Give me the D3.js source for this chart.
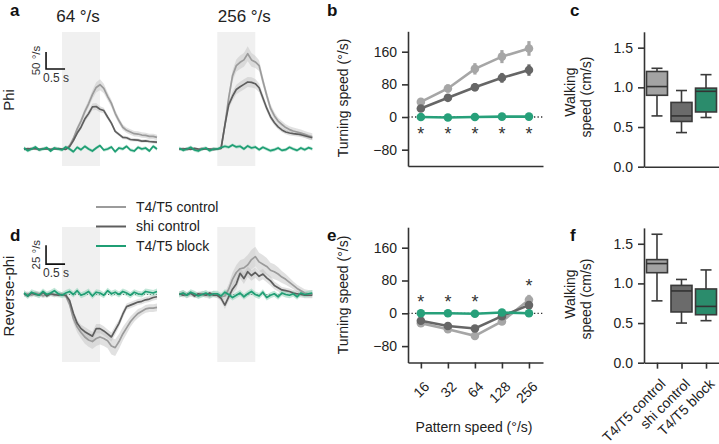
<!DOCTYPE html>
<html>
<head>
<meta charset="utf-8">
<script src="https://cdn.jsdelivr.net/npm/d3@7"></script>
<style>
  body { margin: 0; background: #fff; }
  svg { font-family: "Liberation Sans", Arial, sans-serif; }
</style>
</head>
<body>
<svg id="fig" width="719" height="444"></svg>
<script>
// ---------- data ----------
// time traces: samples every 0.1 s from -1.0 s to 2.5 s (stimulus 0-1 s)
var tStart = -1.0, tStep = 0.1, nSamples = 36;
var stimOn = 0, stimOff = 1;

var phi64Ctrl  = [1,-1,2,0,-2,1,0,-1,2,0, 0,1,10,31,59,82,110,133,160,181,189,178,155,134,105,83,64,55,50,45,44,41,40,37,37,34];
var phi64Shi   = [-1,1,0,2,-1,0,1,-2,0,1, 0,-1,7,25,47,64,88,104,124,125,117,113,94,76,52,43,34,33,28,27,26,23,24,22,21,20];
var phi64Block = [3,-5,0,6,-3,0,4,-6,3,0, -3,6,0,-8,5,-2,8,0,-6,3,10,-3,0,6,-8,3,0,8,-3,-6,5,0,3,-6,8,0];
var phi256Ctrl  = [0,1,-2,1,0,-1,2,0,-1,1, 0,3,70,150,215,245,255,262,280,262,256,245,200,158,120,98,82,72,63,57,53,50,47,43,39,36];
var phi256Shi   = [-1,0,1,-1,2,0,-1,1,0,-2, 0,2,70,130,155,175,183,190,197,196,192,180,150,120,95,78,65,56,50,47,45,44,42,39,36,33];
var phi256Block = [2,-4,0,5,-3,-6,0,3,-5,0, 0,4,8,5,12,6,8,0,9,3,6,-2,5,0,-5,-2,3,-4,-2,5,0,-4,3,-2,4,0];

var rev64Ctrl  = [0,1,-1,2,1,-2,0,1,-1,1, 0,-2,-13,-32,-43,-50,-56,-60,-62,-58,-56,-58,-61,-68,-70,-62,-52,-44,-36,-30,-25,-22,-19,-18,-18,-17];
var rev64Shi   = [1,-2,2,0,-1,3,-2,1,0,-1, 0,-1,-8,-25,-38,-45,-49,-52,-55,-45,-45,-48,-52,-56,-47,-38,-26,-16,-14,-12,-10,-9,-7,-6,-4,-3];
var rev64Block = [2,-2,3,1,-1,4,0,2,5,1, -1,2,4,0,5,-1,1,4,-2,3,2,-1,5,1,3,0,4,2,-1,3,1,0,4,3,2,4];
var rev256Ctrl  = [0,2,-1,1,0,-1,1,0,-2,1, -1,-3,-2,7,20,29,34,35,39,46,50,43,40,37,32,30,27,23,20,16,12,8,5,2,1,1];
var rev256Shi   = [1,-1,0,2,-2,1,0,-1,2,-1, -1,-5,-14,-3,7,14,28,21,30,25,29,24,27,22,18,12,9,6,5,4,2,1,0,-1,-1,-1];
var rev256Block = [0,2,-1,3,1,-2,0,2,-1,1, 1,-2,3,0,-4,-1,2,-3,1,4,0,-2,3,-4,-1,1,-3,2,0,-1,1,-3,2,0,1,2];

// SEM of the traces
var semPhi64Ctrl   = [4,4,4,4,4,4,4,4,4,4, 4,4,5,7,8,9,10,11,13,15,16,14,12,11,10,9,8,8,8,8,8,8,8,8,8,8];
var semPhi64Shi    = [3,3,3,3,3,3,3,3,3,3, 3,3,4,5,6,7,8,9,10,10,9,8,7,6,5,5,5,5,5,5,5,5,5,5,5,5];
var semPhi64Block  = [5,5,5,5,5,5,5,5,5,5, 5,5,5,5,5,5,5,5,5,5,5,5,5,5,5,5,5,5,5,5,5,5,5,5,5,5];
var semPhi256Ctrl  = [4,4,4,4,4,4,4,4,4,4, 4,5,10,14,16,18,20,20,22,20,18,16,14,12,12,11,10,10,10,10,10,10,10,10,10,10];
var semPhi256Shi   = [3,3,3,3,3,3,3,3,3,3, 3,5,10,12,13,14,15,15,15,15,14,13,12,10,9,8,7,7,7,7,7,7,7,7,7,7];
var semPhi256Block = [5,5,5,5,5,5,5,5,5,5, 5,5,5,5,5,5,5,5,5,5,5,5,5,5,5,5,5,5,5,5,5,5,5,5,5,5];
var semRev64Ctrl   = [3,3,3,3,3,3,3,3,3,3, 3,3,4,6,7,8,9,9,10,10,10,10,10,11,11,10,9,8,7,6,6,5,5,5,5,5];
var semRev64Shi    = [3,3,3,3,3,3,3,3,3,3, 3,3,3,4,5,5,6,6,6,6,6,6,6,6,6,5,5,4,4,4,4,4,4,4,4,4];
var semRev64Block  = [4,4,4,4,4,4,4,4,4,4, 4,4,4,4,4,4,4,4,4,4,4,4,4,4,4,4,4,4,4,4,4,4,4,4,4,4];
var semRev256Ctrl  = [4,4,4,4,4,4,4,4,4,4, 4,4,5,7,9,10,11,12,13,13,13,12,12,11,10,10,9,8,7,6,5,5,5,5,5,5];
var semRev256Shi   = [3,3,3,3,3,3,3,3,3,3, 3,4,5,6,6,7,7,7,7,7,7,7,7,6,6,5,5,4,4,4,4,4,4,4,4,4];
var semRev256Block = [4,4,4,4,4,4,4,4,4,4, 4,4,4,4,4,4,4,4,4,4,4,4,4,4,4,4,4,4,4,4,4,4,4,4,4,4];

// tuning curves
var speeds = [16, 32, 64, 128, 256];
var phiCtrl = [37, 70, 118, 148, 168],   phiCtrlErr = [6, 10, 14, 16, 18];
var phiShi = [21, 47, 73, 96, 115],      phiShiErr = [5, 7, 10, 12, 14];
var phiBlock = [0, -1, 0, 1, 1],         phiBlockErr = [2, 2, 2, 2, 2];
var revCtrl = [-24, -39, -55, -20, 33],  revCtrlErr = [5, 6, 8, 8, 12];
var revShi = [-18, -31, -37, -7, 20],    revShiErr = [4, 5, 6, 6, 10];
var revBlock = [0, 0, -1, 2, 0],         revBlockErr = [2, 2, 2, 2, 2];
var phiSig = [true, true, true, true, true];
var revSig = [true, true, true, false, true];

// walking speed boxes: [min, q1, median, q3, max]
var groups = ["T4/T5 control", "shi control", "T4/T5 block"];
var walkPhi = [[0.64, 0.90, 1.01, 1.20, 1.24], [0.43, 0.57, 0.64, 0.81, 0.96], [0.62, 0.69, 0.95, 0.99, 1.16]];
var walkRev = [[0.78, 1.135, 1.25, 1.30, 1.62], [0.50, 0.64, 0.905, 0.975, 1.05], [0.53, 0.605, 0.71, 0.93, 1.17]];

// ---------- style ----------
var colCtrl = "#9b9b9b", colShi = "#5e5e5e", colBlock = "#1f9e74";
var boxFill = ["#a3a3a3", "#6b6b6b", "#2b8c6c"];
var axisCol = "#333";

var svg = d3.select("#fig");
var times = d3.range(nSamples).map(function (i) { return tStart + i * tStep; });

// ---------- panels a / d : traces ----------
var xTraceL = d3.scaleLinear().domain([-1, 2.5]).range([24, 157]);
var xTraceR = d3.scaleLinear().domain([-1, 2.5]).range([179.3, 312.3]);
var yPhi = d3.scaleLinear().domain([-50, 344]).range([166, 32]);
var yRev = d3.scaleLinear().domain([-89, 89]).range([362, 227]);

function drawTraces(x, y, ctrl, shi, block, semC, semS, semB, dotted) {
  var g = svg.append("g");
  g.append("rect")
    .attr("x", x(stimOn)).attr("width", x(stimOff) - x(stimOn))
    .attr("y", y.range()[1]).attr("height", y.range()[0] - y.range()[1])
    .attr("fill", "#f0f0f0");

  if (dotted) {
    g.append("line")
      .attr("x1", x(tStart)).attr("x2", x(times[nSamples - 1]))
      .attr("y1", y(0)).attr("y2", y(0))
      .attr("stroke", "#444").attr("stroke-width", 1.2)
      .attr("stroke-dasharray", "1,2");
  }

  var series = [
    { m: ctrl, s: semC, c: colCtrl, band: "#c8c8c8", op: 0.55 },
    { m: shi, s: semS, c: colShi, band: "#bdbdbd", op: 0.45 },
    { m: block, s: semB, c: colBlock, band: "#8fd3b8", op: 0.55 }
  ];

  series.forEach(function (d) {
    var area = d3.area()
      .x(function (v, i) { return x(times[i]); })
      .y0(function (v, i) { return y(v - d.s[i]); })
      .y1(function (v, i) { return y(v + d.s[i]); });
    g.append("path").datum(d.m)
      .attr("d", area)
      .attr("fill", d.band).attr("opacity", d.op);
  });

  series.forEach(function (d) {
    var line = d3.line()
      .x(function (v, i) { return x(times[i]); })
      .y(function (v) { return y(v); });
    g.append("path").datum(d.m)
      .attr("d", line)
      .attr("fill", "none").attr("stroke", d.c)
      .attr("stroke-width", 1.7).attr("stroke-linejoin", "round");
  });
}

drawTraces(xTraceL, yPhi, phi64Ctrl, phi64Shi, phi64Block, semPhi64Ctrl, semPhi64Shi, semPhi64Block, false);
drawTraces(xTraceR, yPhi, phi256Ctrl, phi256Shi, phi256Block, semPhi256Ctrl, semPhi256Shi, semPhi256Block, false);
drawTraces(xTraceL, yRev, rev64Ctrl, rev64Shi, rev64Block, semRev64Ctrl, semRev64Shi, semRev64Block, true);
drawTraces(xTraceR, yRev, rev256Ctrl, rev256Shi, rev256Block, semRev256Ctrl, semRev256Shi, semRev256Block, true);

// scale bars
function scaleBar(y, t0, v0, dv, label) {
  var g = svg.append("g");
  var xa = xTraceL(t0), xb = xTraceL(t0 + 0.5);
  g.append("path")
    .attr("d", "M" + xa + "," + y(v0 + dv) + "V" + y(v0) + "H" + xb)
    .attr("fill", "none").attr("stroke", "#111").attr("stroke-width", 1.6);
  g.append("text")
    .attr("transform", "translate(" + (xa - 6) + "," + ((y(v0) + y(v0 + dv)) / 2) + ") rotate(-90)")
    .attr("text-anchor", "middle")
    .attr("font-size", 11.5).attr("fill", "#333")
    .text(label);
  g.append("text")
    .attr("x", xa - 3).attr("y", y(v0) + 13)
    .attr("font-size", 12).attr("fill", "#333")
    .text("0.5 s");
}
scaleBar(yPhi, -0.42, 235, 50, "50 °/s");
scaleBar(yRev, -0.42, 40, 25, "25 °/s");

// titles and row labels
svg.append("text").attr("x", xTraceL(0.5) - 3).attr("y", 22).attr("text-anchor", "middle")
  .attr("font-size", 17).attr("fill", "#222").text("64 °/s");
svg.append("text").attr("x", xTraceR(0.5) + 8).attr("y", 22).attr("text-anchor", "middle")
  .attr("font-size", 17).attr("fill", "#222").text("256 °/s");

function vText(x, y, txt, size) {
  svg.append("text")
    .attr("transform", "translate(" + x + "," + y + ") rotate(-90)")
    .attr("text-anchor", "middle").attr("dy", "0.35em")
    .attr("font-size", size).attr("fill", "#222")
    .text(txt);
}
vText(9, 100, "Phi", 15);
vText(9, 296, "Reverse-phi", 15);

// legend
var legend = svg.append("g");
[["T4/T5 control", colCtrl], ["shi control", colShi], ["T4/T5 block", colBlock]].forEach(function (d, i) {
  var yy = 207 + i * 19.5;
  legend.append("line").attr("x1", 96).attr("x2", 126).attr("y1", yy).attr("y2", yy)
    .attr("stroke", d[1]).attr("stroke-width", 2);
  legend.append("text").attr("x", 136).attr("y", yy).attr("dy", "0.35em")
    .attr("font-size", 14).attr("fill", "#222").text(d[0]);
});

// ---------- panels b / e : tuning ----------
var xSpeed = d3.scaleLog().base(2).domain([11.5, 367]).range([408, 543]);
var yTurnB = d3.scaleLinear().domain([-120, 210]).range([166, 31.3]);
var yTurnE = d3.scaleLinear().domain([-120, 210]).range([362.5, 227.2]);

function styleAxis(g) {
  g.selectAll("path.domain").attr("stroke", axisCol).attr("stroke-width", 1.6);
  g.selectAll(".tick line").attr("stroke", axisCol).attr("stroke-width", 1.6);
  g.selectAll(".tick text").attr("fill", "#222").attr("font-size", 14)
    .attr("font-family", "Liberation Sans, Arial, sans-serif");
}

function drawTuning(y, ctrl, ctrlErr, shi, shiErr, block, blockErr, sig, showTicks, starAbove) {
  var g = svg.append("g");

  var ya = g.append("g").attr("transform", "translate(408,0)")
    .call(d3.axisLeft(y).tickValues([-80, 0, 80, 160]).tickSize(6).tickSizeOuter(0).tickPadding(5)
      .tickFormat(function (d) { return d < 0 ? "\u2212" + (-d) : d; }));
  styleAxis(ya);

  var xa = g.append("g").attr("transform", "translate(0," + y.range()[0] + ")")
    .call(d3.axisBottom(xSpeed).tickValues(showTicks ? speeds : []).tickSize(6).tickSizeOuter(0)
      .tickFormat(d3.format("d")));
  styleAxis(xa);
  if (showTicks) {
    xa.selectAll(".tick text")
      .attr("x", 0).attr("y", 0).attr("dy", 0)
      .attr("transform", "translate(9,25) rotate(-45)")
      .attr("text-anchor", "end");
  }

  g.append("line")
    .attr("x1", 408).attr("x2", 543).attr("y1", y(0)).attr("y2", y(0))
    .attr("stroke", "#333").attr("stroke-width", 1.3).attr("stroke-dasharray", "1.3,2.2");

  var series = [
    { v: ctrl, e: ctrlErr, c: "#a6a6a6" },
    { v: shi, e: shiErr, c: "#666666" },
    { v: block, e: blockErr, c: "#27a07a" }
  ];
  series.forEach(function (s) {
    var line = d3.line()
      .x(function (v, i) { return xSpeed(speeds[i]); })
      .y(function (v) { return y(v); });
    g.append("path").datum(s.v).attr("d", line)
      .attr("fill", "none").attr("stroke", s.c).attr("stroke-width", 2.6);
    g.selectAll(null).data(s.v).enter().append("line")
      .attr("x1", function (v, i) { return xSpeed(speeds[i]); })
      .attr("x2", function (v, i) { return xSpeed(speeds[i]); })
      .attr("y1", function (v, i) { return y(v - s.e[i]); })
      .attr("y2", function (v, i) { return y(v + s.e[i]); })
      .attr("stroke", s.c).attr("stroke-width", 3.2);
    g.selectAll(null).data(s.v).enter().append("circle")
      .attr("cx", function (v, i) { return xSpeed(speeds[i]); })
      .attr("cy", function (v) { return y(v); })
      .attr("r", 4.3).attr("fill", s.c);
  });

  speeds.forEach(function (sp, i) {
    if (!sig[i]) return;
    var val;
    if (starAbove) {
      var top = Math.max(ctrl[i] + ctrlErr[i], shi[i] + shiErr[i], block[i] + blockErr[i]);
      val = Math.max(40, top + 33);
    } else {
      val = -30;
    }
    g.append("text").attr("x", xSpeed(sp)).attr("y", y(val) + 11)
      .attr("text-anchor", "middle").attr("font-size", 18).attr("fill", "#333").text("*");
  });
}

drawTuning(yTurnB, phiCtrl, phiCtrlErr, phiShi, phiShiErr, phiBlock, phiBlockErr, phiSig, false, false);
drawTuning(yTurnE, revCtrl, revCtrlErr, revShi, revShiErr, revBlock, revBlockErr, revSig, true, true);

vText(343, 98, "Turning speed (°/s)", 14);
vText(343, 295, "Turning speed (°/s)", 14);
svg.append("text").attr("x", 474).attr("y", 432).attr("text-anchor", "middle")
  .attr("font-size", 14).attr("fill", "#222").text("Pattern speed (°/s)");

// ---------- panels c / f : walking speed ----------
var xGroup = d3.scalePoint().domain(groups).range([644, 719]).padding(0.53);
var yWalkC = d3.scaleLinear().domain([0, 1.7]).range([166.7, 31.8]);
var yWalkF = d3.scaleLinear().domain([0, 1.7]).range([362.7, 227.9]);

function drawBoxes(y, boxes, showTicks) {
  var g = svg.append("g");
  var ya = g.append("g").attr("transform", "translate(644,0)")
    .call(d3.axisLeft(y).tickValues([0, 0.5, 1, 1.5]).tickSize(6).tickSizeOuter(0).tickPadding(5)
      .tickFormat(d3.format(".1f")));
  styleAxis(ya);
  var xa = g.append("g").attr("transform", "translate(0," + y.range()[0] + ")")
    .call(d3.axisBottom(xGroup).tickValues(showTicks ? groups : []).tickSize(6).tickSizeOuter(0));
  styleAxis(xa);
  if (showTicks) {
    xa.selectAll(".tick text")
      .attr("x", 0).attr("y", 0).attr("dy", 0)
      .attr("transform", "translate(9,22) rotate(-45)")
      .attr("text-anchor", "end");
  }

  var bw = 21, cap = 11;
  boxes.forEach(function (b, i) {
    var cx = xGroup(groups[i]);
    var bx = g.append("g");
    bx.append("line").attr("x1", cx).attr("x2", cx).attr("y1", y(b[0])).attr("y2", y(b[4]))
      .attr("stroke", "#3a3a3a").attr("stroke-width", 1.6);
    [b[0], b[4]].forEach(function (v) {
      bx.append("line").attr("x1", cx - cap / 2).attr("x2", cx + cap / 2)
        .attr("y1", y(v)).attr("y2", y(v))
        .attr("stroke", "#3a3a3a").attr("stroke-width", 1.6);
    });
    bx.append("rect").attr("x", cx - bw / 2).attr("width", bw)
      .attr("y", y(b[3])).attr("height", y(b[1]) - y(b[3]))
      .attr("fill", boxFill[i]).attr("stroke", "#3a3a3a").attr("stroke-width", 1.6);
    bx.append("line").attr("x1", cx - bw / 2).attr("x2", cx + bw / 2)
      .attr("y1", y(b[2])).attr("y2", y(b[2]))
      .attr("stroke", "#333").attr("stroke-width", 1.6);
  });
}
drawBoxes(yWalkC, walkPhi, false);
drawBoxes(yWalkF, walkRev, true);

vText(570, 92, "Walking", 14);
vText(586, 97, "speed (cm/s)", 14);
vText(570, 294, "Walking", 14);
vText(586, 299, "speed (cm/s)", 14);

// ---------- panel letters ----------
[["a", 10, 16], ["b", 327, 16], ["c", 570, 16], ["d", 10, 241], ["e", 327, 241], ["f", 570, 241]]
  .forEach(function (d) {
    svg.append("text").attr("x", d[1]).attr("y", d[2])
      .attr("font-size", 17).attr("font-weight", "bold").attr("fill", "#111").text(d[0]);
  });
</script>
</body>
</html>
